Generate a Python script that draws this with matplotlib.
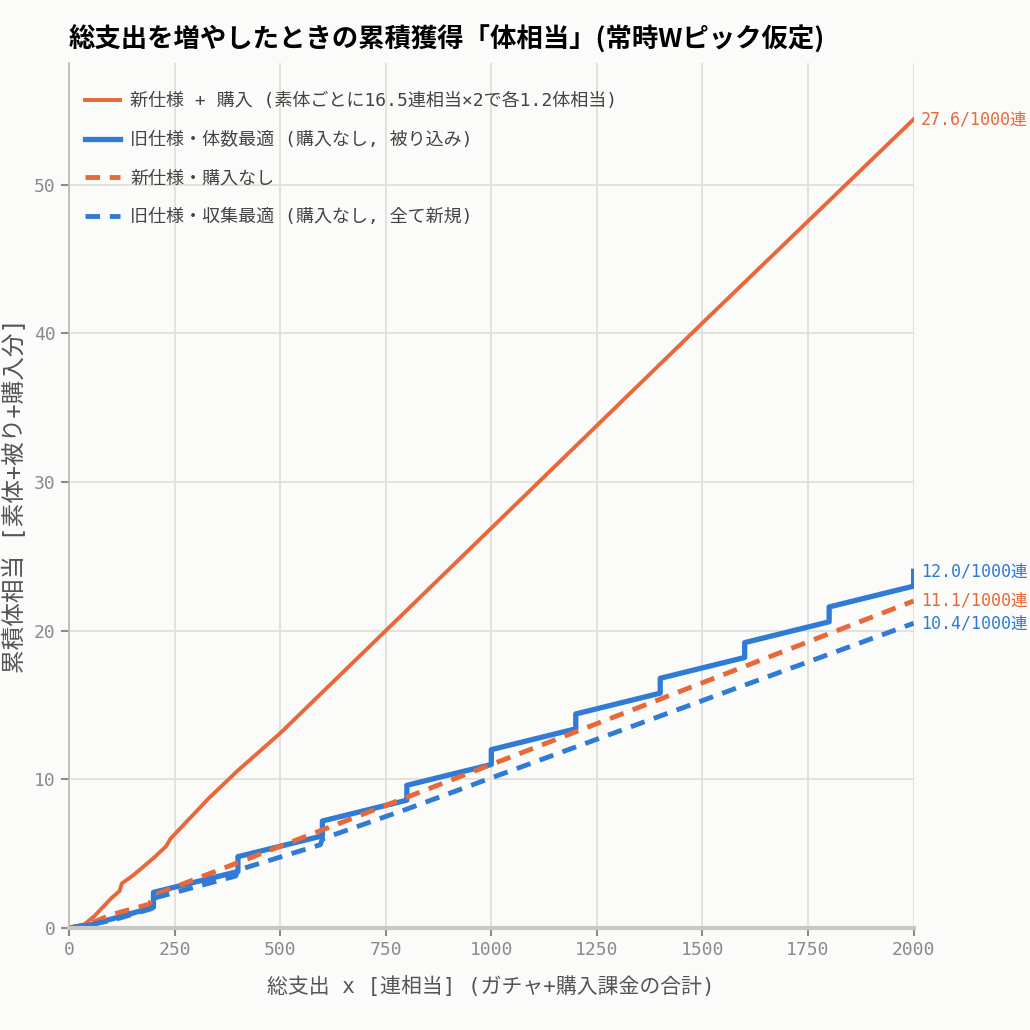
import matplotlib
matplotlib.use('Agg')
import matplotlib.pyplot as plt

# 新仕様 + 購入
new_buy_x = [0, 30, 60, 100, 120, 125, 150, 200, 230, 240, 250, 300, 330, 400, 500, 750, 1000, 1500, 2000]
new_buy_y = [0, 0.1, 0.8, 2.0, 2.5, 3.0, 3.5, 4.7, 5.5, 6.0, 6.3, 7.8, 8.7, 10.6, 13.1, 20.0, 26.9, 40.7, 54.4]

# 旧仕様・体数最適 (step every 200)
old_num_x = [0, 50, 100, 200, 200, 400, 400, 600, 600, 800, 800, 1000, 1000,
             1200, 1200, 1400, 1400, 1600, 1600, 1800, 1800, 2000, 2000]
old_num_y = [0, 0.2, 0.6, 1.4, 2.4, 3.8, 4.8, 6.2, 7.2, 8.6, 9.6, 11.0, 12.0,
             13.4, 14.4, 15.8, 16.8, 18.2, 19.2, 20.6, 21.6, 23.0, 24.0]

# 新仕様・購入なし
new_nobuy_x = [0, 50, 100, 190, 200, 400, 1000, 2000]
new_nobuy_y = [0, 0.3, 0.9, 1.6, 2.2, 4.4, 11.0, 22.0]

# 旧仕様・収集最適
old_col_x = [0, 100, 195, 200, 395, 400, 595, 600, 800, 1000, 2000]
old_col_y = [0, 0.5, 1.3, 2.0, 3.5, 3.9, 5.6, 6.0, 8.0, 10.1, 20.5]

end_labels = ['27.6/1000連', '12.0/1000連', '11.1/1000連', '10.4/1000連']
end_y = [54.4, 24.0, 22.0, 20.5]

ORANGE = '#e8683a'
BLUE = '#2f7bd6'
GRAY = '#8a8a8a'
MIX = ['DejaVu Sans Mono', 'Noto Sans CJK JP']

plt.rcParams['font.family'] = MIX

fig = plt.figure(figsize=(10.3, 10.3), dpi=100, facecolor='#fbfbfa')
ax = fig.add_axes([0.067, 0.099, 0.82, 0.84])
ax.set_facecolor('#fbfbfa')

ax.plot(new_buy_x, new_buy_y, color=ORANGE, lw=2.8,
        label='新仕様 + 購入 (素体ごとに16.5連相当×2で各1.2体相当)')
ax.plot(old_num_x, old_num_y, color=BLUE, lw=3.8,
        label='旧仕様・体数最適 (購入なし, 被り込み)')
ax.plot(new_nobuy_x, new_nobuy_y, color=ORANGE, lw=3.5, ls=(0, (3, 2)),
        label='新仕様・購入なし')
ax.plot(old_col_x, old_col_y, color=BLUE, lw=3.5, ls=(0, (3, 2)),
        label='旧仕様・収集最適 (購入なし, 全て新規)')

for txt, yv, c in zip(end_labels, end_y, [ORANGE, BLUE, ORANGE, BLUE]):
    ax.text(2000 + 18, yv, txt, color=c, fontsize=12, va='center', ha='left',
            family=MIX, clip_on=False)

ax.set_xlim(0, 2000)
ax.set_ylim(0, 58.2)
ax.set_xticks([0, 250, 500, 750, 1000, 1250, 1500, 1750, 2000])
ax.set_yticks([0, 10, 20, 30, 40, 50])
ax.grid(True, color='#e2e0da', lw=1.3)
ax.set_axisbelow(True)

for s in ['top', 'right']:
    ax.spines[s].set_visible(False)
ax.spines['left'].set_color('#b8b8b0')
ax.spines['left'].set_linewidth(1.2)
ax.spines['bottom'].set_color('#c8c8c0')
ax.spines['bottom'].set_linewidth(3)

ax.tick_params(colors=GRAY, labelsize=13, length=6, width=1.5)

ax.set_xlabel('総支出 x [連相当] (ガチャ+購入課金の合計)', fontsize=15, color='#555555', labelpad=12)
ax.set_ylabel('累積体相当 [素体+被り+購入分]', fontsize=17, color='#555555', labelpad=5)

fig.text(0.067, 0.962, '総支出を増やしたときの累積獲得「体相当」(常時Wピック仮定)',
         fontsize=19, fontweight='bold', ha='left', va='center',
         family=['Noto Sans CJK JP', 'DejaVu Sans'])

leg = ax.legend(loc='upper left', frameon=False, fontsize=13, handlelength=1.9,
                handletextpad=0.6, labelspacing=1.15, borderaxespad=0.5,
                bbox_to_anchor=(0.0, 0.985))
for t in leg.get_texts():
    t.set_color('#444444')

plt.savefig('out.png', dpi=100, facecolor=fig.get_facecolor())
